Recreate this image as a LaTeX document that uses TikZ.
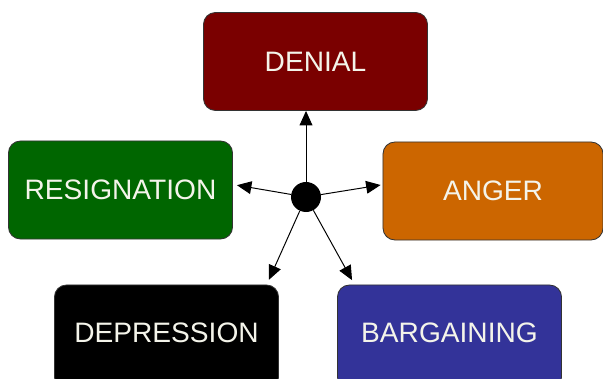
\documentclass[tikz,border=0pt]{standalone}
\usepackage{fontspec}
\setmainfont{Liberation Sans}
\usepackage{xcolor}
\usetikzlibrary{shapes,arrows.meta,positioning}

\definecolor{denialred}{HTML}{7A0000}
\definecolor{resgreen}{HTML}{006600}
\definecolor{angerorange}{HTML}{CC6600}
\definecolor{bargainblue}{HTML}{333399}
\definecolor{stagetext}{HTML}{F4F4EA}

\begin{document}
\begin{tikzpicture}[x=0.025cm, y=0.025cm]
    \tikzstyle{stage} = [rectangle, draw=black!80, line width=0.6pt, rounded corners=0.3cm, minimum width=5.6cm, minimum height=2.45cm, text=stagetext, font=\fontsize{20}{24}\selectfont]
    \tikzstyle{lowstage} = [stage, minimum height=2.6cm, text depth=0.2cm]
    \tikzstyle{hubdot} = [circle, fill=black, minimum size=0.75cm, inner sep=0pt]
    \tikzstyle{arrow} = [line width=0.7pt, -{Triangle[length=0.36cm, width=0.32cm]}]

    \useasboundingbox (0,0) rectangle (603,-379);

    % Stages
    \node [stage, fill=denialred] (denial) at (315.5,-61.5) {DENIAL};
    \node [stage, fill=resgreen] (resignation) at (120.5,-190) {RESIGNATION};
    \node [stage, fill=angerorange, minimum width=5.5cm] (anger) at (493,-191) {ANGER};
    \node [lowstage, fill=black] (depression) at (166.5,-337) {DEPRESSION};
    \node [lowstage, fill=bargainblue] (bargaining) at (449.5,-337) {BARGAINING};

    % Centre
    \node [hubdot] (hub) at (306,-197) {};

    % Arrows
    \draw [arrow] (hub) -- (hub |- denial.south);
    \draw [arrow] (hub) -- ([xshift=0.1cm, yshift=0.12cm]resignation.east);
    \draw [arrow] (hub) -- ([xshift=-0.05cm, yshift=0.15cm]anger.west);
    \draw [arrow] (hub) -- ([xshift=-0.25cm, yshift=0.12cm]depression.north east);
    \draw [arrow] (hub) -- ([xshift=0.375cm, yshift=0.11cm]bargaining.north west);
\end{tikzpicture}
\end{document}
